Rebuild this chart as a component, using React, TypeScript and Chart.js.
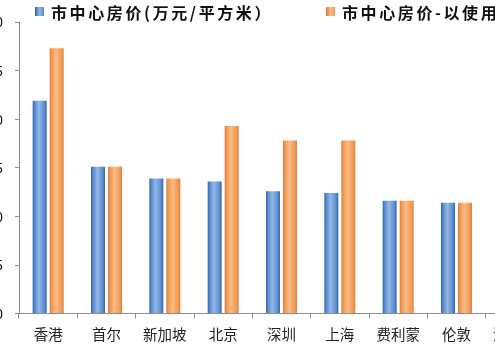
import React, { useEffect, useRef } from "react";
import { Chart, registerables } from "chart.js";

Chart.register(...registerables);

const categories = ["香港", "首尔", "新加坡", "北京", "深圳", "上海", "费利蒙", "伦敦", "洛杉矶"];
const priceBuilt = [21.9, 15.1, 13.9, 13.6, 12.6, 12.4, 11.6, 11.4, 10.6];
const priceUsable = [27.3, 15.1, 13.9, 19.3, 17.8, 17.8, 11.6, 11.4, 10.6];
const seriesLabels = ["市中心房价(万元/平方米）", "市中心房价-以使用面积计(万元/平方米）"];
const yTicks = [0, 5, 10, 15, 20, 25, 30];

const CAT_PCT = 0.583;
const BAR_PCT = 0.82;
const palettes = [
  { dark: "#2f62a6", light: "#94b8e6", mid: "#5b8bd0" },
  { dark: "#de7a34", light: "#fbbb85", mid: "#f09a55" },
];

function barFill(ctx: any, di: number) {
  const chart = ctx.chart;
  const xs = chart.scales?.x;
  if (!xs || !chart.chartArea || ctx.dataIndex === undefined) return palettes[di].mid;
  const n = categories.length;
  const cat = xs.width / n;
  const center = xs.getPixelForValue(ctx.dataIndex);
  const half = (cat * CAT_PCT) / 2;
  const bw = half * BAR_PCT;
  const bc = center + (di === 0 ? -half / 2 : half / 2);
  const g = chart.ctx.createLinearGradient(bc - bw / 2, 0, bc + bw / 2, 0);
  const p = palettes[di];
  g.addColorStop(0, p.dark);
  g.addColorStop(0.15, p.mid);
  g.addColorStop(0.45, p.light);
  g.addColorStop(0.85, p.mid);
  g.addColorStop(1, p.dark);
  return g;
}

export default function App() {
  const ref = useRef<HTMLCanvasElement>(null);
  useEffect(() => {
    if (!ref.current) return;
    const chart = new Chart(ref.current, {
      type: "bar",
      data: {
        labels: categories,
        datasets: [
          {
            label: seriesLabels[0],
            data: priceBuilt,
            backgroundColor: (c: any) => barFill(c, 0),
            borderColor: palettes[0].dark,
            borderWidth: 0,
            categoryPercentage: CAT_PCT,
            barPercentage: BAR_PCT,
          },
          {
            label: seriesLabels[1],
            data: priceUsable,
            backgroundColor: (c: any) => barFill(c, 1),
            borderColor: palettes[1].dark,
            borderWidth: 0,
            categoryPercentage: CAT_PCT,
            barPercentage: BAR_PCT,
          },
        ],
      },
      options: {
        responsive: false,
        animation: false,
        devicePixelRatio: 1,
        layout: { padding: { top: 22, right: 25, bottom: 0, left: 0 } },
        plugins: { legend: { display: false }, tooltip: { enabled: false } },
        scales: {
          x: {
            grid: { drawOnChartArea: false, tickLength: 5, color: "#8c8c8c", offset: true },
            border: { color: "#8c8c8c", width: 1 },
            ticks: {
              color: "#222",
              padding: 7,
              font: { family: "'Noto Sans CJK SC'", size: 14.5 },
              maxRotation: 0,
              autoSkip: false,
            },
          },
          y: {
            min: 0,
            max: 30,
            afterFit: (s: any) => {
              s.width = 40;
            },
            afterBuildTicks: (s: any) => {
              s.ticks = yTicks.map((v) => ({ value: v }));
            },
            grid: { drawOnChartArea: false, tickLength: 4, color: "#8c8c8c" },
            border: { color: "#8c8c8c", width: 1 },
            ticks: {
              color: "#111",
              padding: 12,
              font: { family: "'Noto Sans CJK SC'", size: 14 },
            },
          },
        },
      },
    });
    return () => chart.destroy();
  }, []);

  const legendText: React.CSSProperties = {
    position: "absolute",
    top: 3,
    fontFamily: "'Noto Sans CJK SC'",
    fontWeight: 700,
    fontSize: 16,
    letterSpacing: 2.6,
    lineHeight: "18px",
    whiteSpace: "nowrap",
    color: "#111",
  };
  const box = (left: number, i: number): React.CSSProperties => ({
    position: "absolute",
    left,
    top: 7,
    width: 9,
    height: 9,
    background: `linear-gradient(to right, ${palettes[i].dark}, ${palettes[i].light}, ${palettes[i].mid})`,
  });

  return (
    <div style={{ position: "fixed", inset: 0, overflow: "hidden", background: "#fff" }}>
      <div style={{ position: "absolute", left: -21, top: 0, width: 590, height: 350 }}>
        <canvas ref={ref} width={590} height={350} style={{ display: "block" }} />
      </div>
      <div style={box(35, 0)} />
      <div style={{ ...legendText, left: 51 }}>{seriesLabels[0]}</div>
      <div style={box(326, 1)} />
      <div style={{ ...legendText, left: 342 }}>{seriesLabels[1]}</div>
    </div>
  );
}
